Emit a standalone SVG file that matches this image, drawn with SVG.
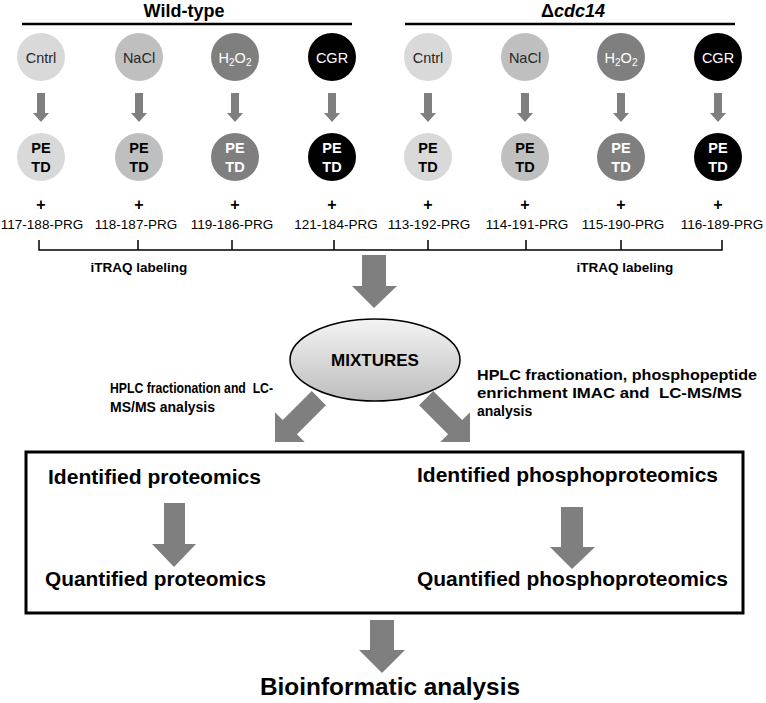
<svg xmlns="http://www.w3.org/2000/svg" xmlns:xlink="http://www.w3.org/1999/xlink" width="766" height="703" viewBox="0 0 766 703">
<style>
text{font-family:"Liberation Sans",Arial,sans-serif}
.hdr{font-size:18px;font-weight:bold;text-anchor:middle}
.lbl{font-size:14.5px;text-anchor:middle}
.pt{font-size:14.5px;font-weight:bold;text-anchor:middle}
.tag{font-size:13.5px;text-anchor:middle}
.plus{font-size:16px;font-weight:bold;text-anchor:middle}
.it{font-size:13.5px;font-weight:bold;text-anchor:middle}
.proc{font-size:14px;font-weight:bold;white-space:pre}
.res{font-size:20px;font-weight:bold}
.c1{fill:#d9d9d9}.c2{fill:#bfbfbf}.c3{fill:#7f7f7f}.c4{fill:#000}
.dk{fill:#262626}.wt{fill:#fff}
.arr{fill:#7f7f7f}
.ln{stroke:#000;fill:none}
</style>
<defs>
<path id="sa" d="M-4,93 H4 V113 H8 L0,122 L-8,113 H-4 Z"/>
<path id="da" d="M-10,-62 H10 V-21 H21 L0,0 L-21,-21 H-10 Z"/>
<linearGradient id="eg" x1="0" y1="0" x2="0" y2="1">
<stop offset="0" stop-color="#f4f4f4"/>
<stop offset="1" stop-color="#bdbdbd"/>
</linearGradient>
</defs>

<g id="headers">
<text class="hdr" x="184" y="17">Wild-type</text>
<line class="ln" x1="22" y1="24" x2="352" y2="24" stroke-width="2.5"/>
<text class="hdr" x="573" y="17">Δ<tspan font-style="italic">cdc14</tspan></text>
<line class="ln" x1="405" y1="24" x2="735" y2="24" stroke-width="2.5"/>
</g>

<g id="connectors">
<g class="arr">
<use xlink:href="#sa" x="41"/>
<use xlink:href="#sa" x="139"/>
<use xlink:href="#sa" x="235"/>
<use xlink:href="#sa" x="332"/>
<use xlink:href="#sa" x="428"/>
<use xlink:href="#sa" x="525"/>
<use xlink:href="#sa" x="621"/>
<use xlink:href="#sa" x="718"/>
<path d="M362,255 H386 V286 H397 L374,308 L352,286 H362 Z"/>
<use xlink:href="#da" transform="translate(275,442) rotate(45)"/>
<use xlink:href="#da" transform="translate(470,442) rotate(-45)"/>
<path d="M164,503 H185 V544 H196 L174,567 L152,544 H164 Z"/>
<path d="M561,507 H583 V547 H595 L572,569 L550,547 H561 Z"/>
<path d="M370,620 H394 V650 H405 L382,673 L359,650 H370 Z"/>
</g>
<g class="ln" stroke-width="1.5">
<path d="M39,240 V250 H722 V240 M138,240 V250 M232,240 V250 M334,240 V250 M428,240 V250 M526,240 V250 M621,240 V250"/>
</g>
</g>

<g id="wt-cntrl">
<circle class="c1" cx="41" cy="57" r="24"/><text class="lbl dk" x="41" y="63">Cntrl</text>
<circle class="c1" cx="41" cy="157" r="24"/><text class="pt" x="41" y="153">PE</text><text class="pt" x="41" y="172">TD</text>
<text class="plus" x="41" y="210">+</text><text class="tag" x="42" y="229">117-188-PRG</text>
</g>
<g id="wt-nacl">
<circle class="c2" cx="139" cy="57" r="24"/><text class="lbl dk" x="139" y="63">NaCl</text>
<circle class="c2" cx="139" cy="157" r="24"/><text class="pt" x="139" y="153">PE</text><text class="pt" x="139" y="172">TD</text>
<text class="plus" x="139" y="210">+</text><text class="tag" x="136" y="229">118-187-PRG</text>
</g>
<g id="wt-h2o2">
<circle class="c3" cx="235" cy="57" r="24"/><text class="lbl wt" x="235" y="63">H<tspan font-size="10" dy="3">2</tspan><tspan dy="-3">O</tspan><tspan font-size="10" dy="3">2</tspan></text>
<circle class="c3" cx="235" cy="157" r="24"/><text class="pt wt" x="235" y="153">PE</text><text class="pt wt" x="235" y="172">TD</text>
<text class="plus" x="235" y="210">+</text><text class="tag" x="232" y="229">119-186-PRG</text>
</g>
<g id="wt-cgr">
<circle class="c4" cx="332" cy="57" r="24"/><text class="lbl wt" x="332" y="63">CGR</text>
<circle class="c4" cx="332" cy="157" r="24"/><text class="pt wt" x="332" y="153">PE</text><text class="pt wt" x="332" y="172">TD</text>
<text class="plus" x="332" y="210">+</text><text class="tag" x="336" y="229">121-184-PRG</text>
</g>
<g id="mut-cntrl">
<circle class="c1" cx="428" cy="57" r="24"/><text class="lbl dk" x="428" y="63">Cntrl</text>
<circle class="c1" cx="428" cy="157" r="24"/><text class="pt" x="428" y="153">PE</text><text class="pt" x="428" y="172">TD</text>
<text class="plus" x="428" y="210">+</text><text class="tag" x="429" y="229">113-192-PRG</text>
</g>
<g id="mut-nacl">
<circle class="c2" cx="525" cy="57" r="24"/><text class="lbl dk" x="525" y="63">NaCl</text>
<circle class="c2" cx="525" cy="157" r="24"/><text class="pt" x="525" y="153">PE</text><text class="pt" x="525" y="172">TD</text>
<text class="plus" x="525" y="210">+</text><text class="tag" x="527" y="229">114-191-PRG</text>
</g>
<g id="mut-h2o2">
<circle class="c3" cx="621" cy="57" r="24"/><text class="lbl wt" x="621" y="63">H<tspan font-size="10" dy="3">2</tspan><tspan dy="-3">O</tspan><tspan font-size="10" dy="3">2</tspan></text>
<circle class="c3" cx="621" cy="157" r="24"/><text class="pt wt" x="621" y="153">PE</text><text class="pt wt" x="621" y="172">TD</text>
<text class="plus" x="621" y="210">+</text><text class="tag" x="623" y="229">115-190-PRG</text>
</g>
<g id="mut-cgr">
<circle class="c4" cx="718" cy="57" r="24"/><text class="lbl wt" x="718" y="63">CGR</text>
<circle class="c4" cx="718" cy="157" r="24"/><text class="pt wt" x="718" y="153">PE</text><text class="pt wt" x="718" y="172">TD</text>
<text class="plus" x="718" y="210">+</text><text class="tag" x="722" y="229">116-189-PRG</text>
</g>

<g id="itraq">
<text class="it" x="139" y="272">iTRAQ labeling</text>
<text class="it" x="625" y="272">iTRAQ labeling</text>
</g>

<g id="mixtures">
<ellipse cx="375" cy="360" rx="85" ry="41" fill="url(#eg)" stroke="#000" stroke-width="1.5"/>
<text x="375" y="366" font-size="17" font-weight="bold" text-anchor="middle">MIXTURES</text>
</g>

<g id="proc-left">
<text class="proc" x="110" y="393" textLength="163" lengthAdjust="spacingAndGlyphs">HPLC fractionation and  LC-</text>
<text class="proc" x="110" y="412">MS/MS analysis</text>
</g>
<g id="proc-right">
<text class="proc" x="477" y="380" textLength="280" lengthAdjust="spacingAndGlyphs">HPLC fractionation, phosphopeptide</text>
<text class="proc" x="477" y="398" textLength="265" lengthAdjust="spacingAndGlyphs">enrichment IMAC and  LC-MS/MS</text>
<text class="proc" x="477" y="416">analysis</text>
</g>

<g id="results">
<rect x="26" y="452" width="717" height="161" fill="none" stroke="#000" stroke-width="3"/>
<text class="res" x="48" y="484" textLength="213" lengthAdjust="spacingAndGlyphs">Identified proteomics</text>
<text class="res" x="417" y="482" textLength="301" lengthAdjust="spacingAndGlyphs">Identified phosphoproteomics</text>
<text class="res" x="45" y="586" textLength="221" lengthAdjust="spacingAndGlyphs">Quantified proteomics</text>
<text class="res" x="417" y="586" textLength="311" lengthAdjust="spacingAndGlyphs">Quantified phosphoproteomics</text>
</g>

<g id="bioinformatic">
<text x="260" y="695" font-size="23" font-weight="bold" textLength="260" lengthAdjust="spacingAndGlyphs">Bioinformatic analysis</text>
</g>
</svg>
